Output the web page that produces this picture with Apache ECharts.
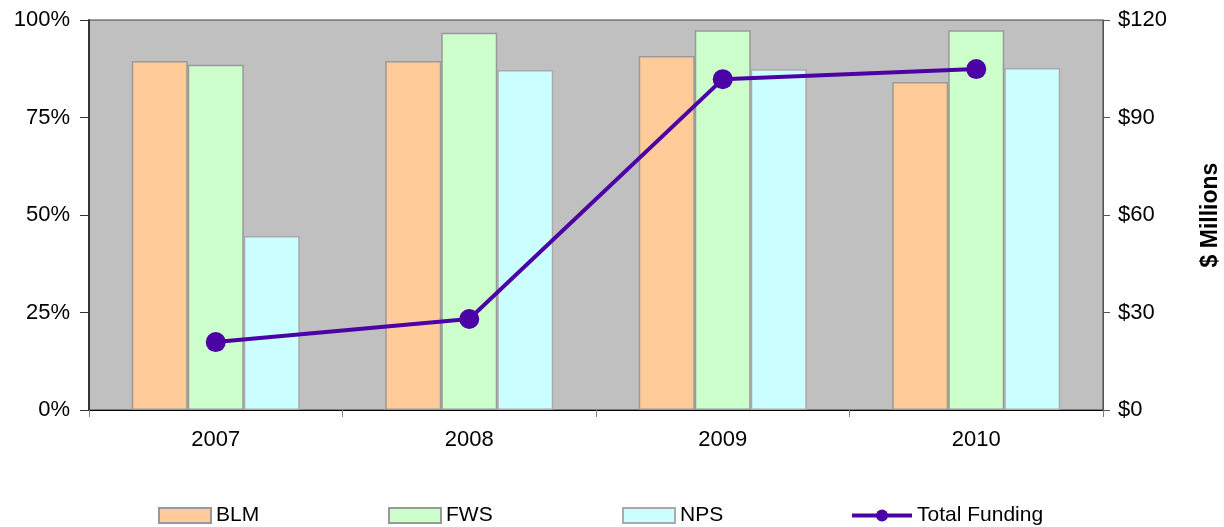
<!DOCTYPE html>
<html>
<head>
<meta charset="utf-8">
<script src="https://cdn.jsdelivr.net/npm/echarts@6/dist/echarts.min.js"></script>
<style>
  html, body { margin: 0; padding: 0; background: #fff; }
  #chart { width: 1224px; height: 527px; }
</style>
</head>
<body>
<div id="chart"></div>
<script>
const years = ['2007', '2008', '2009', '2010'];
const blm = [89.5, 89.5, 90.8, 84.1];
const fws = [88.5, 96.7, 97.4, 97.4];
const nps = [44.6, 87.2, 87.4, 87.7];
const totalFunding = [20.9, 28.0, 101.8, 104.9];

const font = 'Liberation Sans, Arial, sans-serif';
const chart = echarts.init(document.getElementById('chart'));

function legendAt(name, left, width, height, icon) {
  return {
    data: [{ name: name, icon: icon }],
    left: left,
    top: 500,
    itemWidth: width,
    itemHeight: height,
    itemGap: 4,
    lineStyle: { width: 4 },
    textStyle: { fontFamily: font, fontSize: 21, color: '#000' },
    selectedMode: false
  };
}

function barSeries(name, data, color, border) {
  return {
    name: name,
    type: 'bar',
    data: data,
    barWidth: 56,
    barGap: '0%',
    itemStyle: { color: color, borderColor: border, borderWidth: 1.5 }
  };
}

const option = {
  animation: false,
  grid: {
    left: 89, right: 121, top: 20, bottom: 117,
    outerBoundsMode: 'none',
    show: true, backgroundColor: '#C0C0C0', borderColor: '#404040', borderWidth: 1
  },
  legend: [
    legendAt('BLM', 153, 52, 15, 'rect'),
    legendAt('FWS', 383, 52, 15, 'rect'),
    legendAt('NPS', 617, 52, 15, 'rect'),
    legendAt('Total Funding', 845, 60, 15)
  ],
  xAxis: {
    type: 'category',
    data: years,
    axisLine: { lineStyle: { color: '#000', width: 1 } },
    axisTick: { show: true, length: 7, lineStyle: { color: '#808080' } },
    axisLabel: { fontFamily: font, fontSize: 22, color: '#000', margin: 19 }
  },
  yAxis: [
    {
      type: 'value', min: 0, max: 100, interval: 25,
      axisLine: { show: true, lineStyle: { color: '#333', width: 2 } },
      axisTick: { show: true, length: 9, lineStyle: { color: '#333' } },
      splitLine: { show: false },
      axisLabel: { fontFamily: font, fontSize: 22, color: '#000', margin: 19, formatter: '{value}%' }
    },
    {
      type: 'value', min: 0, max: 120, interval: 30, position: 'right',
      name: '$ Millions', nameLocation: 'middle', nameGap: 96, nameRotate: 90,
      nameTextStyle: { fontFamily: font, fontSize: 23, fontWeight: 'bold', color: '#000' },
      axisLine: { show: true, lineStyle: { color: '#555', width: 1 } },
      axisTick: { show: true, length: 7, lineStyle: { color: '#555' } },
      splitLine: { show: false },
      axisLabel: { fontFamily: font, fontSize: 22, color: '#000', margin: 15, formatter: '${value}' }
    }
  ],
  series: [
    barSeries('BLM', blm, '#FFCC99', '#999999'),
    barSeries('FWS', fws, '#CCFFCC', '#999999'),
    barSeries('NPS', nps, '#CCFFFF', '#AAAAAA'),
    {
      name: 'Total Funding',
      type: 'line',
      yAxisIndex: 1,
      data: totalFunding,
      symbol: 'circle',
      symbolSize: 20,
      lineStyle: { color: '#4B03A5', width: 4 },
      itemStyle: { color: '#4B03A5' }
    }
  ]
};

chart.setOption(option);
</script>
</body>
</html>
